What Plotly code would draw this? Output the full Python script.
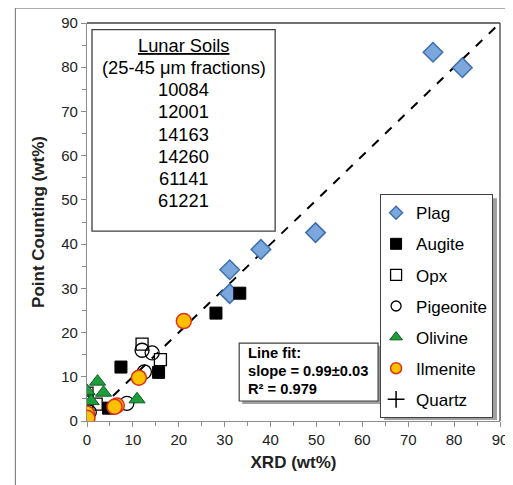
import plotly.graph_objects as go

# ---- data (XRD wt%, Point Counting wt%) ----
plag_x = [75.4, 81.8, 49.8, 37.9, 31.1, 31.1]
plag_y = [83.4, 79.9, 42.6, 38.8, 34.2, 28.8]

augite_x = [33.3, 28.1, 7.4, 15.6, 4.7, 0.0]
augite_y = [28.9, 24.4, 12.2, 11.0, 2.9, 0.0]

opx_x = [12.0, 16.0, 0.0, 2.0, 0.0]
opx_y = [17.4, 13.9, 6.3, 3.8, 4.3]

pig_x = [12.0, 14.2, 12.5, 8.7, 0.5]
pig_y = [16.0, 15.4, 11.1, 4.0, 2.0]

oliv_x = [2.3, 3.6, 0.0, 10.9, 0.0, 0.9]
oliv_y = [8.9, 6.4, 6.8, 4.9, 0.0, 4.5]

ilm_x = [21.1, 11.3, 6.5, 6.0, 0.0, 0.1]
ilm_y = [22.6, 9.8, 3.5, 3.2, 1.7, 0.7]

qtz_x = [0.0]
qtz_y = [0.0]

fit_x = [0, 90]
fit_y = [0, 90]

fit_lines = ["<b>Line fit:</b>", "<b>slope = 0.99±0.03</b>", "<b>R² = 0.979</b>"]
soils_title = "<u>Lunar Soils</u>"
soils_sub = "(25-45 μm fractions)"
soils = ["10084", "12001", "14163", "14260", "61141", "61221"]

FONT = "Liberation Sans, Arial, sans-serif"

styles = {
    "Plag": dict(symbol="diamond", color="#7BA7DC", line=dict(color="#3F6FAF", width=1.5)),
    "Augite": dict(symbol="square", color="black", line=dict(color="black", width=1)),
    "Opx": dict(symbol="square", color="white", line=dict(color="black", width=1.3)),
    "Pigeonite": dict(symbol="circle", color="rgba(255,255,255,0)", line=dict(color="black", width=1.3)),
    "Olivine": dict(symbol="triangle-up", color="#1E9E3A", line=dict(color="#0E5A1E", width=1)),
    "Ilmenite": dict(symbol="circle", color="#FFC000", line=dict(color="#E0301A", width=1.5)),
    "Quartz": dict(symbol="cross-thin", color="black", line=dict(color="black", width=1.5)),
}
sizes = {"Plag": 15, "Augite": 12, "Opx": 12, "Pigeonite": 14, "Olivine": 14, "Ilmenite": 15, "Quartz": 11}
legend_sizes = {"Plag": 10, "Augite": 11, "Opx": 11, "Pigeonite": 10, "Olivine": 11, "Ilmenite": 11, "Quartz": 12}

fig = go.Figure()

def add_series(name, xs, ys):
    fig.add_trace(go.Scatter(x=xs, y=ys, mode="markers", name=name, showlegend=False,
                             marker=dict(size=sizes[name], **styles[name])))

add_series("Quartz", qtz_x, qtz_y)
fig.add_trace(go.Scatter(x=fit_x, y=fit_y, mode="lines", showlegend=False,
                         line=dict(color="black", width=2, dash="dash")))
add_series("Plag", plag_x, plag_y)
add_series("Augite", augite_x, augite_y)
add_series("Opx", opx_x, opx_y)
add_series("Pigeonite", pig_x, pig_y)
add_series("Olivine", oliv_x, oliv_y)
add_series("Ilmenite", ilm_x, ilm_y)

for i, name in enumerate(["Plag", "Augite", "Opx", "Pigeonite", "Olivine", "Ilmenite", "Quartz"]):
    fig.add_trace(go.Scatter(x=[None], y=[None], mode="markers", name=name,
                             legendgroup="g%d" % i, showlegend=True,
                             marker=dict(size=legend_sizes[name], **styles[name])))

axis_common = dict(range=[0, 90], dtick=10, showgrid=False, zeroline=False, automargin=False,
                   showline=True, linecolor="#8C8C8C", linewidth=1.3,
                   ticks="outside", ticklen=5, tickcolor="#8C8C8C",
                   minor=dict(ticks="outside", ticklen=4, dtick=5, tickcolor="#8C8C8C"),
                   tickfont=dict(family=FONT, size=15, color="#222222"))

fig.update_xaxes(**axis_common,
                 title=dict(text="<b>XRD (wt%)</b>", font=dict(family=FONT, size=17, color="#222222"),
                            standoff=8))
fig.update_yaxes(**axis_common,
                 title=dict(text="<b>Point Counting (wt%)</b>", font=dict(family=FONT, size=17, color="#222222"),
                            standoff=12))

def px_x(p):
    return (p - 86.7) / 413.3

def px_y(p):
    return (421 - p) / 398.3

shapes = [
    dict(type="rect", xref="paper", yref="paper", x0=-0.1735, x1=1.06, y0=-0.2, y1=1.0375,
         line=dict(color="#6E6E6E", width=1), layer="below"),
    dict(type="line", xref="paper", yref="paper", x0=0, x1=1, y0=1, y1=1,
         line=dict(color="#404040", width=1.3)),
    dict(type="line", xref="paper", yref="paper", x0=1, x1=1, y0=0, y1=1,
         line=dict(color="#404040", width=1.3)),
    # legend shadow
    dict(type="rect", xref="paper", yref="paper", x0=px_x(384), x1=px_x(497), y0=px_y(420), y1=px_y(198),
         line=dict(width=0), fillcolor="#A0A0A0", layer="above"),
    # lunar soils box
    dict(type="rect", xref="paper", yref="paper", x0=px_x(91.7), x1=px_x(275), y0=px_y(231), y1=px_y(29.3),
         line=dict(color="#404040", width=1.3), fillcolor="white", layer="above"),
    # line fit box shadow + box
    dict(type="rect", xref="paper", yref="paper", x0=px_x(242), x1=px_x(381), y0=px_y(404), y1=px_y(346),
         line=dict(width=0), fillcolor="#A0A0A0", layer="above"),
    dict(type="rect", xref="paper", yref="paper", x0=px_x(239), x1=px_x(378), y0=px_y(401), y1=px_y(343),
         line=dict(color="#404040", width=1.2), fillcolor="white", layer="above"),
]

annotations = []
for i, t in enumerate(fit_lines):
    annotations.append(dict(xref="paper", yref="paper", x=px_x(246), y=px_y(353 + 18 * i),
                            xanchor="left", yanchor="middle", text=t, showarrow=False, align="left",
                            font=dict(family=FONT, size=14.7, color="black")))
soil_lines = [soils_title, soils_sub] + soils
for i, t in enumerate(soil_lines):
    annotations.append(dict(xref="paper", yref="paper", x=px_x(183.3),
                            y=px_y(45 + 22.2 * i), xanchor="center", yanchor="middle",
                            text=t, showarrow=False,
                            font=dict(family=FONT, size=18.3, color="black")))

# page body has an 8px margin: compensate in figure size/margins
fig.update_layout(
    width=505, height=477,
    margin=dict(l=79, r=13, t=15, b=64),
    paper_bgcolor="white", plot_bgcolor="white",
    font=dict(family=FONT, color="black"),
    shapes=shapes, annotations=annotations,
    legend=dict(x=px_x(380), y=px_y(194), xanchor="left", yanchor="top",
                bgcolor="white", bordercolor="#404040", borderwidth=1,
                font=dict(family=FONT, size=17, color="black"),
                tracegroupgap=6, itemwidth=30, indentation=-5,
                traceorder="grouped"),
)

fig.write_html("out.html")
